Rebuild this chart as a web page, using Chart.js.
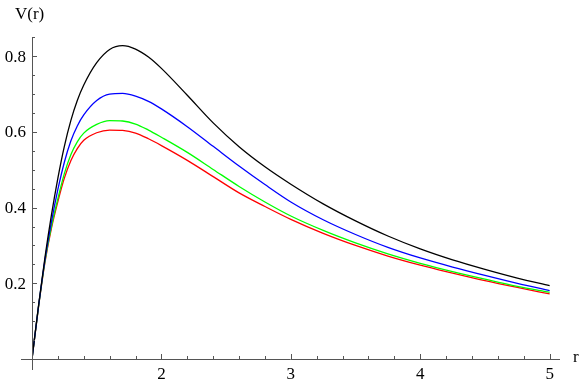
<!DOCTYPE html>
<html>
<head>
<meta charset="utf-8">
<script src="https://cdn.jsdelivr.net/npm/chart.js@4/dist/chart.umd.min.js"></script>
<style>
  html, body { margin: 0; padding: 0; background: #fff; }
  #wrap { width: 586px; height: 389px; position: relative; }
</style>
</head>
<body>
<div id="wrap"><canvas id="chart"></canvas></div>
<script>
// r grid and V(r) for each curve
const rValues = [1, 1.05, 1.1, 1.15, 1.2, 1.25, 1.3, 1.35, 1.4, 1.5, 1.6, 1.7, 1.8, 1.9, 2.0,
                 2.2, 2.4, 2.6, 2.8, 3.0, 3.25, 3.5, 3.75, 4.0, 4.25, 4.5, 4.75, 5.0];
const vBlack = [0, 0.14, 0.268, 0.38, 0.478, 0.562, 0.630, 0.683, 0.724, 0.783, 0.818, 0.828, 0.819, 0.798, 0.768,
                0.697, 0.624, 0.561, 0.508, 0.462, 0.410, 0.365, 0.325, 0.291, 0.262, 0.237, 0.214, 0.194];
const vBlue  = [0, 0.138, 0.262, 0.362, 0.448, 0.520, 0.576, 0.616, 0.645, 0.683, 0.700, 0.702, 0.695, 0.681, 0.661,
                0.614, 0.562, 0.510, 0.461, 0.415, 0.368, 0.329, 0.295, 0.267, 0.243, 0.221, 0.200, 0.181];
const vGreen = [0, 0.137, 0.258, 0.350, 0.424, 0.490, 0.540, 0.574, 0.597, 0.620, 0.630, 0.629, 0.621, 0.605, 0.586,
                0.546, 0.501, 0.456, 0.415, 0.378, 0.340, 0.307, 0.278, 0.253, 0.231, 0.211, 0.192, 0.176];
const vRed   = [0, 0.136, 0.255, 0.345, 0.416, 0.478, 0.524, 0.556, 0.578, 0.598, 0.605, 0.604, 0.597, 0.582, 0.564,
                0.525, 0.482, 0.439, 0.403, 0.369, 0.332, 0.300, 0.272, 0.248, 0.227, 0.207, 0.189, 0.172];

const xMajorTicks = [2, 3, 4, 5];
const yMajorTicks = [0.2, 0.4, 0.6, 0.8];
const xTitle = 'r';
const yTitle = 'V(r)';

const FONT = '"Liberation Serif", "DejaVu Serif", serif';
const AXIS_COLOR = '#555';

function pts(vals) {
    return rValues.map((r, i) => ({ x: r, y: vals[i] }));
}

function curve(vals, color) {
    return {
        data: pts(vals),
        borderColor: color,
        borderWidth: 1.3,
        pointRadius: 0,
        fill: false,
        cubicInterpolationMode: 'monotone'
    };
}

/** Mathematica-style axes: lines through (1,0), inward ticks, serif labels */
const mmaAxes = {
    id: 'mmaAxes',
    afterDraw(chart) {
        const ctx = chart.ctx;
        const xs = chart.scales.x, ys = chart.scales.y;
        const x0 = xs.getPixelForValue(1), y0 = ys.getPixelForValue(0);
        const area = chart.chartArea;

        ctx.save();
        ctx.strokeStyle = AXIS_COLOR;
        ctx.lineWidth = 1;

        // axis lines
        ctx.beginPath();
        ctx.moveTo(x0 - 11, Math.round(y0) + 0.5);
        ctx.lineTo(area.right, Math.round(y0) + 0.5);
        ctx.moveTo(Math.round(x0) + 0.5, y0 + 11);
        ctx.lineTo(Math.round(x0) + 0.5, area.top);
        ctx.stroke();

        // x ticks every 0.2, major at integers
        ctx.beginPath();
        for (let k = 6; k <= 25; k++) {
            const v = k / 5;
            const px = Math.round(xs.getPixelForValue(v)) + 0.5;
            const len = (k % 5 === 0) ? 5 : 3;
            ctx.moveTo(px, y0);
            ctx.lineTo(px, y0 - len);
        }
        // y ticks every 0.05, major every 0.2
        for (let k = 1; k <= 17; k++) {
            const v = k * 0.05;
            const py = Math.round(ys.getPixelForValue(v)) + 0.5;
            const len = (k % 4 === 0) ? 5 : 3;
            ctx.moveTo(x0, py);
            ctx.lineTo(x0 + len, py);
        }
        ctx.stroke();

        // labels
        ctx.fillStyle = '#000';
        ctx.font = '17px ' + FONT;
        ctx.textAlign = 'center';
        ctx.textBaseline = 'top';
        xMajorTicks.forEach(v => ctx.fillText(String(v), xs.getPixelForValue(v), y0 + 7));

        ctx.textAlign = 'right';
        ctx.textBaseline = 'middle';
        yMajorTicks.forEach(v => ctx.fillText(v.toFixed(1), x0 - 6, ys.getPixelForValue(v) + 1));

        ctx.textAlign = 'left';
        ctx.fillText(xTitle, area.right + 13, y0 - 1);
        ctx.fillText(yTitle, 15, 15);
        ctx.restore();
    }
};

new Chart(document.getElementById('chart'), {
    type: 'line',
    data: {
        datasets: [
            curve(vBlack, '#000000'),
            curve(vBlue, '#0000ff'),
            curve(vGreen, '#00ff00'),
            curve(vRed, '#ff0000')
        ]
    },
    options: {
        responsive: true,
        maintainAspectRatio: false,
        animation: false,
        layout: { padding: { left: 32, top: 37, right: 26, bottom: 30 } },
        plugins: { legend: { display: false }, tooltip: { enabled: false } },
        scales: {
            x: { type: 'linear', min: 1, max: 5.08, display: false },
            y: { type: 'linear', min: 0, max: 0.851, display: false }
        }
    },
    plugins: [mmaAxes]
});
</script>
</body>
</html>
